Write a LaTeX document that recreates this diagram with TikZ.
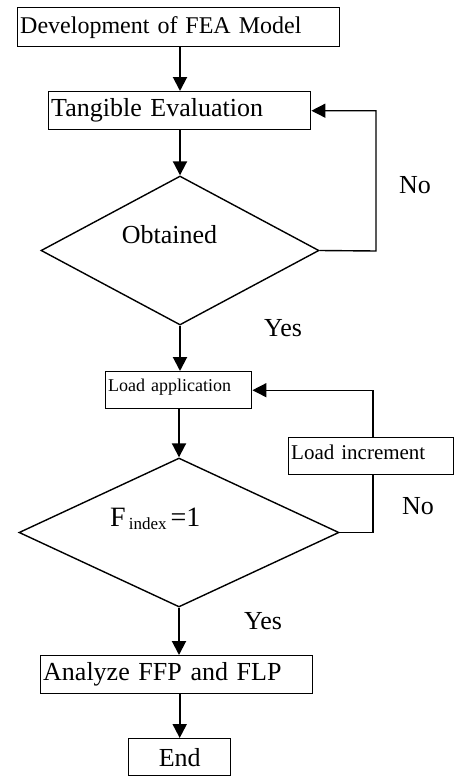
\documentclass[tikz,border=0pt]{standalone}
\usepackage{fontspec}
\setmainfont{Liberation Serif}
\usetikzlibrary{arrows.meta,shapes.geometric}
\begin{document}
\begin{tikzpicture}[x=1pt,y=-1pt,
  box/.style={draw, line width=1.4pt, rectangle, anchor=north west, inner xsep=2.5pt, inner ysep=0pt, align=left},
  dia/.style={draw, diamond, line width=1.4pt, inner sep=0pt},
  arr/.style={line width=2pt, -{Triangle[length=14pt,width=14pt]}},
  fb/.style={line width=1.4pt, -{Triangle[length=14pt,width=14pt]}},
  lnk/.style={line width=1.4pt},
  lbl/.style={font=\fontsize{26}{28}\selectfont, inner sep=0pt}]
\useasboundingbox (0,0) rectangle (454,776);
\node[box, minimum height=39pt, text width=317pt, font=\fontsize{24}{26}\selectfont] (b1) at (17,7) {Development of FEA Model};
\node[box, minimum height=38pt, text width=257pt, font=\fontsize{26}{28}\selectfont] (b2) at (48,91) {Tangible Evaluation};
\node[box, minimum height=37pt, text width=141pt, text depth=9pt, font=\fontsize{18}{20}\selectfont] (b3) at (105,371) {Load application};
\node[box, minimum height=37pt, text width=160pt, text depth=8pt, font=\fontsize{21}{23}\selectfont] (b4) at (288,437) {Load increment};
\node[box, minimum height=38pt, text width=267pt, font=\fontsize{26}{28}\selectfont] (b5) at (40,655) {Analyze FFP and FLP};
\node[box, minimum height=37pt, text width=97pt, align=center, font=\fontsize{26}{28}\selectfont] (b6) at (128,738) {End};
\node[dia, minimum width=278pt, minimum height=149pt] (d1) at (180,250.5) {};
\node[dia, minimum width=320pt, minimum height=149pt] (d2) at (179,532.5) {};
\node[lbl] (t1) at (169.5,235) {Obtained};
\node[lbl, anchor=base west, font=\fontsize{28}{30}\selectfont] (t2) at (110,526) {F\hspace{3pt}\raisebox{-3pt}{\fontsize{17}{19}\selectfont index}\hspace{4pt}=1};
\node[lbl] (no1) at (415,185) {No};
\node[lbl] (yes1) at (283,328) {Yes};
\node[lbl] (no2) at (418,506) {No};
\node[lbl] (yes2) at (263,621) {Yes};
\coordinate (r1) at (376,251);
\coordinate (r2) at (373,534);
\draw[arr] (b1.south -| d1.north) -- (b2.north -| d1.north);
\draw[arr] (b2.south -| d1.north) -- (d1.north);
\draw[fb] (d1.east) -- (r1) |- (b2.east);
\draw[arr] (d1.south) -- (b3.north -| d1.south);
\draw[fb] (b4.north -| r2) |- (b3.east);
\draw[lnk] (d2.east) -| (b4.south -| r2);
\draw[arr] (b3.south -| d2.north) -- (d2.north);
\draw[arr] (d2.south) -- (b5.north -| d2.south);
\draw[arr] (b5.south -| b6.north) -- (b6.north);
\end{tikzpicture}
\end{document}
